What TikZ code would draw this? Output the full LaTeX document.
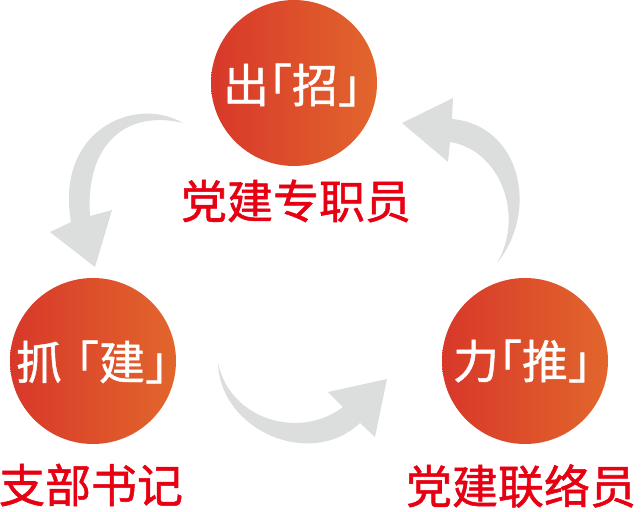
\documentclass[tikz,border=0pt]{standalone}
\usepackage{fontspec}
\newfontfamily\cjkin[RawFeature=+halt,FakeBold=1.0]{Noto Sans CJK SC}
\newfontfamily\cjkmed[RawFeature=+halt,FakeBold=1.2]{Noto Sans CJK SC}
\definecolor{ballL}{RGB}{216,56,42}
\definecolor{ballR}{RGB}{226,102,44}
\definecolor{arrgray}{RGB}{220,221,221}
\definecolor{labred}{RGB}{230,0,18}
\tikzset{
  ball/.style={circle, minimum size=166pt, inner sep=0pt, left color=ballL, right color=ballR, draw=none},
  balltext/.style={text=white, inner sep=0pt, font=\cjkin\fontsize{46}{46}\selectfont},
  role/.style={text=labred, inner sep=0pt, font=\cjkmed\fontsize{46}{46}\selectfont},
  bigarrow/.style={fill=arrgray, draw=none}
}
\begin{document}
\begin{tikzpicture}[x=1pt,y=-1pt]
\useasboundingbox (0,0) rectangle (641,512);
% circles
\node[ball] (zhao) at (294,83) {};
\node[ball] (jian) at (93,361) {};
\node[ball] (tui) at (525,361) {};
\node[balltext] (zhaot) at (292,85) {出「招」};
\node[balltext] (jiant) at (92,362) {抓\hspace{0.3em}「建」};
\node[balltext] (tuit) at (522,361) {力「推」};
% role labels
\node[role] (zhuanzhi) at (296,201) {党建专职员};
\node[role] (shuji) at (91,485) {支部书记};
\node[role] (lianluo) at (521,486) {党建联络员};
% arrows
\fill[bigarrow] (183,123) .. controls (135,95) and (55,130) .. (71,222)
  -- (50,232) -- (95,267) -- (112,210) -- (90,216)
  .. controls (85,140) and (130,110) .. (183,123) -- cycle;
\fill[bigarrow] (218,363) .. controls (220,430) and (310,470) .. (360,423)
  -- (375,437) -- (387,379) -- (328,392) -- (343,407)
  .. controls (300,440) and (230,420) .. (218,363) -- cycle;
\fill[bigarrow] (497,263) .. controls (540,210) and (520,125) .. (452,119)
  -- (453,98) -- (402,123) -- (448,162) -- (450,142)
  .. controls (500,150) and (525,215) .. (497,263) -- cycle;
\end{tikzpicture}
\end{document}
